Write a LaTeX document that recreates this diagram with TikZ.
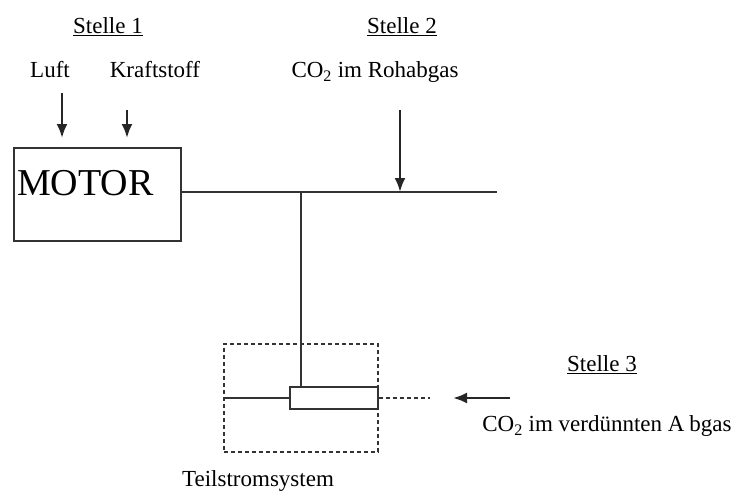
\documentclass[tikz,border=0pt]{standalone}
\usepackage{fontspec}
\setmainfont{Liberation Serif}
\usetikzlibrary{arrows.meta,positioning}
\tikzset{
  lbl/.style     ={font=\fontsize{23}{27}\selectfont, inner sep=0pt},
  bigtxt/.style  ={font=\fontsize{38}{42}\selectfont, inner sep=0pt},
  motorbox/.style={rectangle, draw=black!80, line width=2.6pt,
                   minimum width=167pt, minimum height=93pt},
  probebox/.style={rectangle, draw=black!80, line width=2.4pt,
                   minimum width=88pt, minimum height=22pt},
  tssbox/.style  ={rectangle, draw=black!80, line width=2.4pt,
                   dash pattern=on 4pt off 3pt,
                   minimum width=154pt, minimum height=108pt},
  pipe/.style    ={draw=black!80, line width=2.2pt},
  flow/.style    ={-{Latex[length=14pt,width=11pt]}, draw=black!85, line width=2.4pt},
}
\begin{document}
\begin{tikzpicture}[x=1pt,y=-1pt]
  \useasboundingbox (0,0) rectangle (736,493);
  % Stelle 1
  \node[lbl] (st1) at (108,27) {\underline{Stelle 1}};
  \node[lbl] (luft) at (50,70) {Luft};
  \node[lbl] (kraft) at (155,70) {Kraftstoff};
  \node[motorbox] (motor) at (97.5,194.5) {};
  \node[bigtxt, anchor=west] (motortxt) at (17,183) {MOTOR};
  \coordinate (lufta) at (62,93);
  \coordinate (luftb) at (62,138);
  \coordinate (krafta) at (127,110);
  \coordinate (kraftb) at (127,138);
  \draw[flow] (lufta) -- (luftb);
  \draw[flow] (krafta) -- (kraftb);
  % Stelle 2
  \node[lbl] (st2) at (402,27) {\underline{Stelle 2}};
  \node[lbl] (roh) at (375,72) {CO\textsubscript{2} im Rohabgas};
  \coordinate (tee) at (301,192);
  \coordinate (pipeend) at (497,192);
  \coordinate (roha) at (400,110);
  \coordinate (rohb) at (400,192);
  \draw[pipe] (motor.east |- tee) -- (pipeend);
  \draw[flow] (roha) -- (rohb);
  % Teilstromsystem
  \node[tssbox] (tss) at (301,398) {};
  \node[probebox] (probe) at (334,398) {};
  \node[lbl] (tsslbl) at (258,481) {Teilstromsystem};
  \draw[pipe] (tee) -- (tee |- probe.north);
  \draw[pipe] (tss.west) -- (probe.west);
  \coordinate (dend) at (430,398);
  \draw[draw=black!80, line width=1.8pt, dash pattern=on 4pt off 3pt] (probe.east) -- (dend);
  % Stelle 3
  \node[lbl] (st3) at (602,365) {\underline{Stelle 3}};
  \node[lbl] (verd) at (607,426) {CO\textsubscript{2} im verdünnten A\kern5pt bgas};
  \coordinate (verda) at (510,398);
  \coordinate (verdb) at (453,398);
  \draw[flow] (verda) -- (verdb);
\end{tikzpicture}
\end{document}
